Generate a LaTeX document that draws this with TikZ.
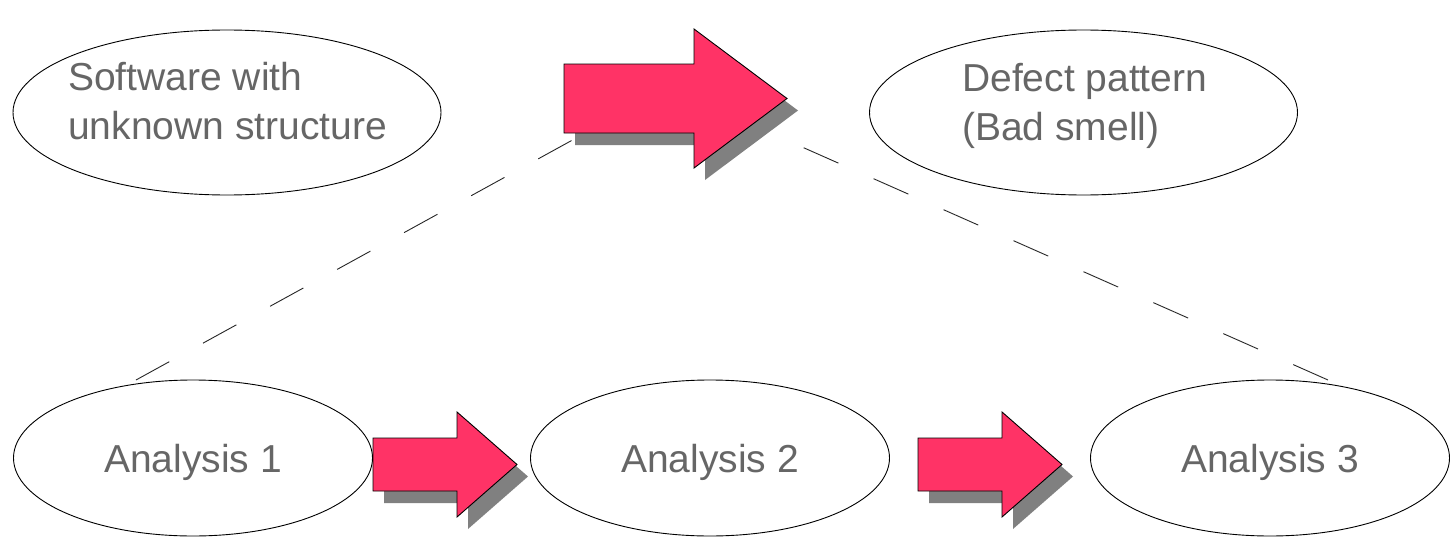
\documentclass[tikz,border=0pt]{standalone}
\usepackage{fontspec}
\setmainfont{Liberation Sans}
\usetikzlibrary{shapes.geometric}

\definecolor{arrowpink}{HTML}{FF3366}
\definecolor{shadowgray}{HTML}{808080}
\definecolor{labelgray}{HTML}{666666}

% Block arrow with a drop shadow:
% #1 left x, #2 centre y, #3 body half height, #4 head base x, #5 head half height, #6 tip x
\newcommand\BlockArrow[6]{%
  \fill[shadowgray, shift={(11,12)}]
    ({#1},{#2-#3}) -- ({#4},{#2-#3}) -- ({#4},{#2-#5}) -- ({#6},{#2})
    -- ({#4},{#2+#5}) -- ({#4},{#2+#3}) -- ({#1},{#2+#3}) -- cycle;
  \filldraw[arrowpink, draw=black, line width=0.9pt, line join=miter]
    ({#1},{#2-#3}) -- ({#4},{#2-#3}) -- ({#4},{#2-#5}) -- ({#6},{#2})
    -- ({#4},{#2+#5}) -- ({#4},{#2+#3}) -- ({#1},{#2+#3}) -- cycle;
}

\tikzset{
  bubble/.style={ellipse, draw=black, line width=0.9pt, inner sep=0pt,
    font=\fontsize{39}{49}\selectfont, text=labelgray},
  bigbubble/.style={bubble, minimum width=428pt, minimum height=165pt},
  stagebubble/.style={bubble, minimum width=359pt, minimum height=156pt,
    text height=28pt, text depth=0pt},
  bubbletext/.style={inner sep=0pt, align=left, anchor=base west,
    font=\fontsize{39}{49}\selectfont, text=labelgray},
  linkline/.style={draw=black!85, line width=0.9pt, dash pattern=on 38pt off 38.5pt}
}

\begin{document}
\begin{tikzpicture}[x=1pt, y=-1pt]
  \useasboundingbox (0,0) rectangle (1452,538);

  % outline ellipses
  \node[bigbubble] (software) at (227,112.5) {};
  \node[bigbubble] (defect) at (1083.5,112.5) {};
  \node[stagebubble] (an1) at (193,458) {Analysis 1};
  \node[stagebubble] (an2) at (710,458) {Analysis 2};
  \node[stagebubble] (an3) at (1270,458) {Analysis 3};

  % two-line captions of the upper ellipses (anchored on the last baseline)
  \node[bubbletext] (softwaretext) at (68,139.5) {Software with\\unknown structure};
  \node[bubbletext] (defecttext) at (962,140) {Defect pattern\\(Bad smell)};

  % dashed links between the stages and the main arrow
  \coordinate (linkA) at (136,380);
  \coordinate (linkB) at (578,137);
  \coordinate (linkC) at (802,147);
  \coordinate (linkD) at (1328,380);
  \path[linkline] (linkA) -- (linkB);
  \path[linkline] (linkD) -- (linkC);

  % block arrows
  \BlockArrow{564}{98.5}{34.5}{694}{69.5}{787}
  \BlockArrow{373}{464.5}{26.5}{457}{52.5}{517}
  \BlockArrow{918}{464.5}{26.5}{1002}{52.5}{1062}
\end{tikzpicture}
\end{document}
